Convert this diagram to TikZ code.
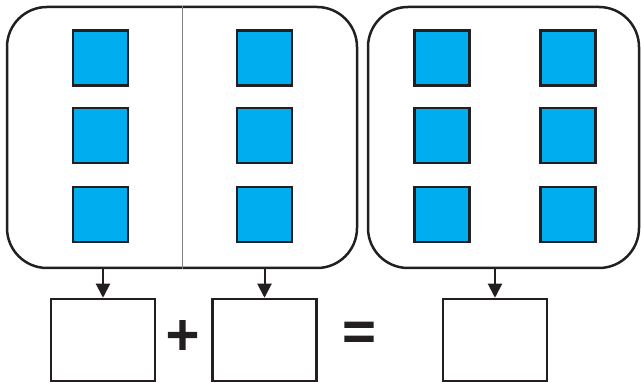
\documentclass[tikz,border=0pt]{standalone}
\usepackage{fontspec}
\newfontfamily\signfont[FakeBold=4]{Liberation Sans}
\usetikzlibrary{arrows.meta}
\definecolor{tilecolor}{RGB}{0,174,239}
\definecolor{inkcolor}{RGB}{35,31,32}
\tikzset{
	groupbox/.style={draw=inkcolor,line width=2.5pt,rounded corners=40pt,inner sep=0pt},
	tile/.style={draw=inkcolor,fill=tilecolor,line width=2.5pt,minimum size=55pt,inner sep=0pt},
	answerbox/.style={draw=inkcolor,line width=2.5pt,minimum width=104pt,minimum height=82pt,inner sep=0pt},
	sign/.style={font=\signfont\fontsize{56}{56}\selectfont,text=inkcolor,inner sep=0pt},
	pointer/.style={draw=inkcolor,line width=2pt,-{Triangle[width=14pt,length=14pt]}}
}
\begin{document}
\begin{tikzpicture}[x=1pt,y=-1pt]
	\useasboundingbox (0,0) rectangle (641,382);
	% the two groups
	\node[groupbox,minimum width=350pt,minimum height=261pt] (left) at (182,137.5) {};
	\node[groupbox,minimum width=271pt,minimum height=261pt] (right) at (503.5,137.5) {};
	\draw[gray,line width=1pt] (left.north) -- (left.south);
	% tiles
	\foreach \c/\x in {a/100.5,b/264.5,c/442,d/568}
		\foreach \r/\y in {1/58,2/135.5,3/214.5}
			\node[tile] (tile\c\r) at (\x,\y) {};
	% answer boxes
	\node[answerbox] (first) at (103,340) {};
	\node[answerbox] (second) at (264.5,340) {};
	\node[answerbox] (total) at (495,340) {};
	\node[sign] (plus) at (182.5,337.5) {+};
	\node[sign] (equals) at (359,336.5) {=};
	% pointers
	\draw[pointer] (first.north |- left.south) -- (first.north);
	\draw[pointer] (second.north |- left.south) -- (second.north);
	\draw[pointer] (total.north |- right.south) -- (total.north);
\end{tikzpicture}
\end{document}
